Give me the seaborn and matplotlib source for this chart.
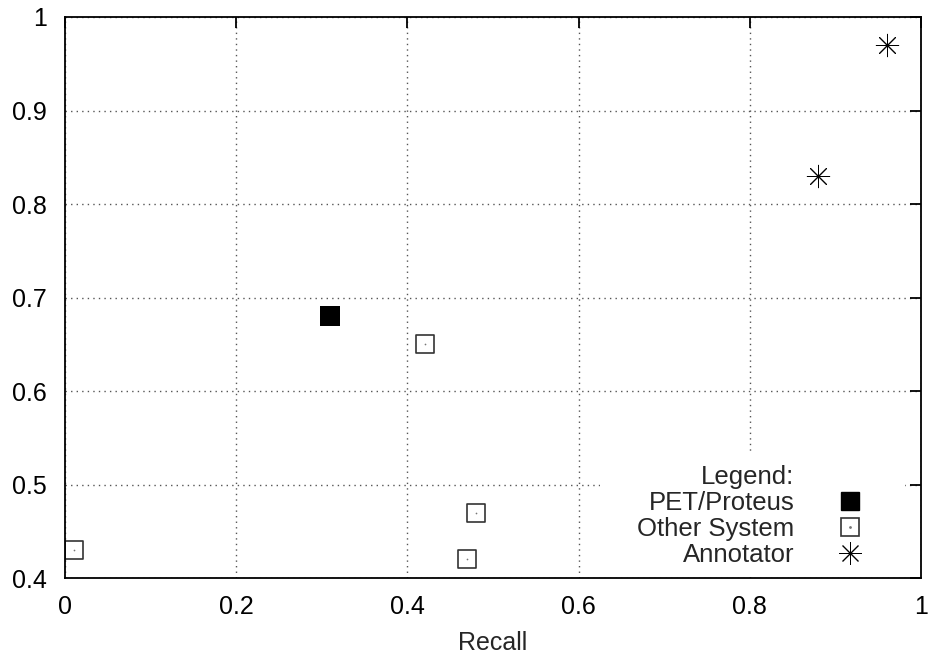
import numpy as np
import pandas as pd
import matplotlib.pyplot as plt
import seaborn as sns
from matplotlib.lines import Line2D
from matplotlib.patches import Rectangle
from matplotlib.legend_handler import HandlerTuple

# values
pet_recall = [0.31]
pet_precision = [0.68]
other_recall = [0.01, 0.42, 0.47, 0.48]
other_precision = [0.43, 0.65, 0.42, 0.47]
annot_recall = [0.88, 0.96]
annot_precision = [0.83, 0.97]

x_ticks = [0, 0.2, 0.4, 0.6, 0.8, 1]
x_labels = ['0', '0.2', '0.4', '0.6', '0.8', '1']
y_ticks = [0.4, 0.5, 0.6, 0.7, 0.8, 0.9, 1]
y_labels = ['0.4', '0.5', '0.6', '0.7', '0.8', '0.9', '1']
legend_labels = ['Legend:', 'PET/Proteus', 'Other System', 'Annotator']

sns.set_style("white")
plt.rcParams['font.family'] = ['Liberation Sans', 'DejaVu Sans']
plt.rcParams['font.size'] = 18

fig = plt.figure(figsize=(9.29, 6.58), dpi=100)
ax = fig.add_axes([65/929, 1-578/658, (921-65)/929, (578-17)/658])

sns.scatterplot(x=pet_recall, y=pet_precision, marker='s', s=190, color='black',
                edgecolor='black', linewidth=0, ax=ax, zorder=3)
sns.scatterplot(x=other_recall, y=other_precision, marker='s', s=175, facecolor='white',
                edgecolor='#333333', linewidth=1.2, ax=ax, zorder=3)
sns.scatterplot(x=other_recall, y=other_precision, marker='.', s=6, color='#777777',
                linewidth=0, ax=ax, zorder=4)
sns.scatterplot(x=annot_recall, y=annot_precision, marker=(8, 2, 0), s=260, color='black',
                linewidth=0.7, ax=ax, zorder=3)
sns.scatterplot(x=annot_recall, y=annot_precision, marker='.', s=8, color='black',
                linewidth=0, ax=ax, zorder=4)

ax.set_xlim(0, 1)
ax.set_ylim(0.4, 1)
ax.set_xticks(x_ticks)
ax.set_xticklabels(x_labels)
ax.set_yticks(y_ticks)
ax.set_yticklabels(y_labels)
ax.grid(True, linestyle=(0, (1, 3)), color='#555555', linewidth=1.0)
ax.tick_params(direction='in', length=8, width=1.3, top=True, right=True,
               labelsize=18, colors='black')
ax.tick_params(axis='y', pad=13)
ax.tick_params(axis='x', pad=12)
for sp in ax.spines.values():
    sp.set_color('black')
    sp.set_linewidth(1.3)
    sp.set_zorder(5)
ax.set_xlabel('Recall', fontsize=18, labelpad=9)
ax.set_ylabel('')

# white key area hiding the grid, like gnuplot does
ax.add_patch(Rectangle(((600-65)/856, 0.004), (905-600)/856, (578-453)/561 - 0.004,
                       transform=ax.transAxes, facecolor='white', edgecolor='none', zorder=1))

h_title = Line2D([], [], linestyle='none')
h_pet = Line2D([], [], marker='s', color='black', linestyle='none', markersize=13.5)
h_other = (Line2D([], [], marker='s', markerfacecolor='white', markeredgecolor='#333333',
                  markeredgewidth=1.2, linestyle='none', markersize=13),
           Line2D([], [], marker='.', color='#777777', linestyle='none', markersize=2))
h_ann = Line2D([], [], marker=(8, 2, 0), color='black', linestyle='none', markersize=16,
               markeredgewidth=0.7)
leg = ax.legend([h_title, h_pet, h_other, h_ann], legend_labels,
                handler_map={tuple: HandlerTuple(ndivide=1)},
                markerfirst=False, loc='lower right',
                bbox_to_anchor=((905-65)/856, 0.011),
                frameon=False, fontsize=18.5,
                labelspacing=0.08, handletextpad=0.2, handlelength=3.9,
                borderpad=0.1, borderaxespad=0.1)
leg.set_zorder(4)

plt.savefig('out.png', dpi=100)
